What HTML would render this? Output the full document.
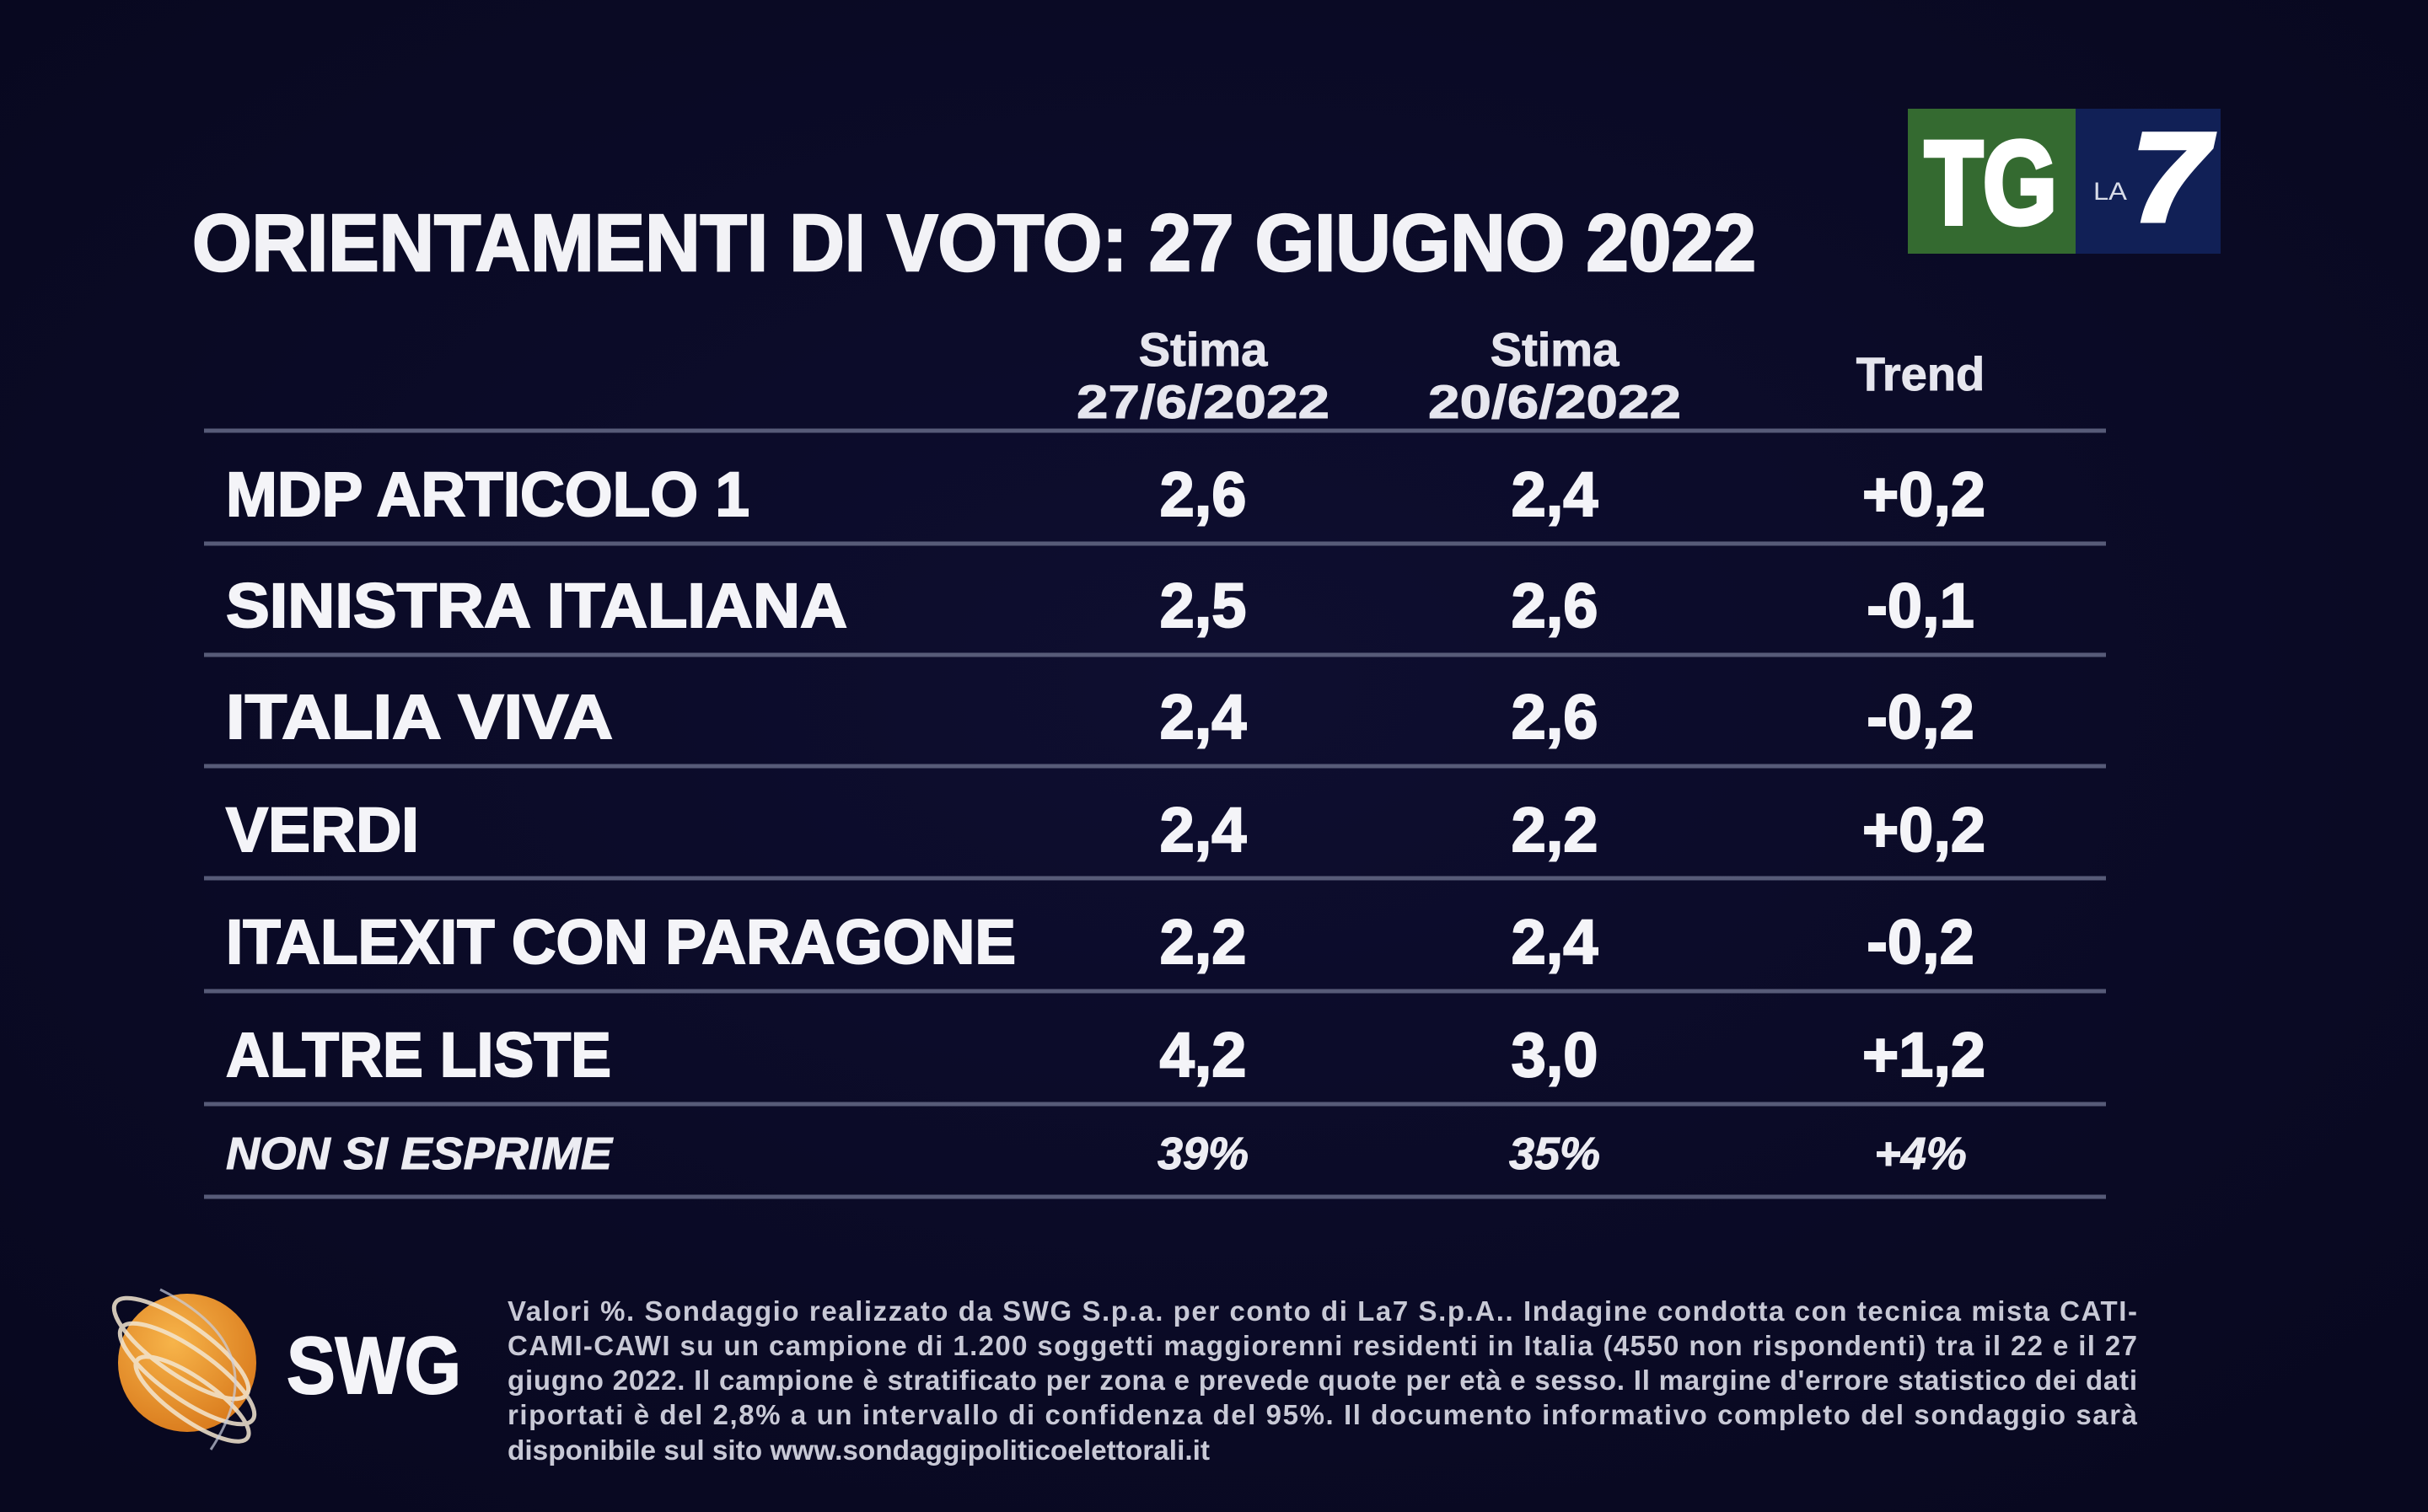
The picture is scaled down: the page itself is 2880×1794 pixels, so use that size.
<!DOCTYPE html>
<html><head><meta charset="utf-8"><style>
html,body{margin:0;padding:0;background:#0b0b28;}
svg{display:block}
</style></head><body>
<svg width="2880" height="1794" viewBox="0 0 2880 1794" xmlns="http://www.w3.org/2000/svg" font-family="Liberation Sans, DejaVu Sans, sans-serif">
<defs>
<radialGradient id="bg" cx="50%" cy="45%" r="70%">
<stop offset="0" stop-color="#0e0e30"/><stop offset="1" stop-color="#08081f"/>
</radialGradient>
<radialGradient id="orb" cx="40%" cy="35%" r="70%">
<stop offset="0" stop-color="#f7b44a"/><stop offset="1" stop-color="#d97a1c"/>
</radialGradient>
</defs>
<rect width="2880" height="1794" fill="url(#bg)"/>

<!-- TG LA7 logo -->
<rect x="2263" y="129" width="199" height="172" fill="#346a30"/>
<rect x="2462" y="129" width="172" height="172" fill="#112056"/>
<text x="2283" y="265" font-size="140" font-weight="bold" fill="#fff" stroke="#fff" stroke-width="6" textLength="157" lengthAdjust="spacingAndGlyphs">TG</text>
<text x="2483" y="237" font-size="30" fill="#d8dce8" textLength="40" lengthAdjust="spacingAndGlyphs">LA</text>
<text x="2528" y="262" font-size="150" font-weight="bold" font-style="italic" fill="#fff" stroke="#fff" stroke-width="5" textLength="92" lengthAdjust="spacingAndGlyphs">7</text>

<!-- Title -->
<text x="228" y="321" font-size="96" font-weight="bold" fill="#f2f2f6" stroke="#f2f2f6" stroke-width="2.5" textLength="1855" lengthAdjust="spacingAndGlyphs">ORIENTAMENTI DI VOTO: 27 GIUGNO 2022</text>

<!-- Headers -->
<g font-size="56" font-weight="bold" fill="#e6e6ee" text-anchor="middle" stroke="#e6e6ee" stroke-width="1">
<text x="1427" y="434">Stima</text>
<text x="1427" y="496" textLength="300" lengthAdjust="spacingAndGlyphs">27/6/2022</text>
<text x="1844" y="434">Stima</text>
<text x="1844" y="496" textLength="300" lengthAdjust="spacingAndGlyphs">20/6/2022</text>
<text x="2278" y="463">Trend</text>
</g>

<!-- Lines -->
<g stroke="#575b78" stroke-width="5">
<line x1="242" y1="511" x2="2498" y2="511"/>
<line x1="242" y1="645" x2="2498" y2="645"/>
<line x1="242" y1="777" x2="2498" y2="777"/>
<line x1="242" y1="909" x2="2498" y2="909"/>
<line x1="242" y1="1042" x2="2498" y2="1042"/>
<line x1="242" y1="1176" x2="2498" y2="1176"/>
<line x1="242" y1="1310" x2="2498" y2="1310"/>
<line x1="242" y1="1420" x2="2498" y2="1420"/>
</g>

<!-- Rows -->
<g font-size="74" font-weight="bold" fill="#f4f4f8" stroke="#f4f4f8" stroke-width="2">
<text x="268" y="612" textLength="621" lengthAdjust="spacingAndGlyphs">MDP ARTICOLO 1</text>
<text x="268" y="744" textLength="737" lengthAdjust="spacingAndGlyphs">SINISTRA ITALIANA</text>
<text x="268" y="876" textLength="459" lengthAdjust="spacingAndGlyphs">ITALIA VIVA</text>
<text x="268" y="1010" textLength="229" lengthAdjust="spacingAndGlyphs">VERDI</text>
<text x="268" y="1143" textLength="937" lengthAdjust="spacingAndGlyphs">ITALEXIT CON PARAGONE</text>
<text x="268" y="1277" textLength="457" lengthAdjust="spacingAndGlyphs">ALTRE LISTE</text>
</g>
<g font-size="74" font-weight="bold" fill="#f4f4f8" text-anchor="middle" stroke="#f4f4f8" stroke-width="2">
<text x="1427" y="612">2,6</text><text x="1844" y="612">2,4</text><text x="2282" y="612">+0,2</text>
<text x="1427" y="744">2,5</text><text x="1844" y="744">2,6</text><text x="2278" y="744">-0,1</text>
<text x="1427" y="876">2,4</text><text x="1844" y="876">2,6</text><text x="2278" y="876">-0,2</text>
<text x="1427" y="1010">2,4</text><text x="1844" y="1010">2,2</text><text x="2282" y="1010">+0,2</text>
<text x="1427" y="1143">2,2</text><text x="1844" y="1143">2,4</text><text x="2278" y="1143">-0,2</text>
<text x="1427" y="1277">4,2</text><text x="1844" y="1277">3,0</text><text x="2282" y="1277">+1,2</text>
</g>
<g font-size="54" font-weight="bold" font-style="italic" fill="#ececf2" stroke="#ececf2" stroke-width="1">
<text x="268" y="1387" textLength="458" lengthAdjust="spacingAndGlyphs">NON SI ESPRIME</text>
<text x="1427" y="1387" text-anchor="middle">39%</text>
<text x="1844" y="1387" text-anchor="middle">35%</text>
<text x="2278" y="1387" text-anchor="middle">+4%</text>
</g>

<!-- SWG logo -->
<circle cx="222" cy="1617" r="82" fill="url(#orb)"/>
<g fill="none" stroke="#f3e6d0" stroke-width="5" opacity="0.85">
<ellipse cx="215" cy="1600" rx="95" ry="30" transform="rotate(35 215 1600)"/>
<ellipse cx="222" cy="1630" rx="95" ry="30" transform="rotate(35 222 1630)"/>
<ellipse cx="228" cy="1660" rx="80" ry="25" transform="rotate(35 228 1660)"/>
</g>
<path d="M190 1530 Q330 1600 250 1720" fill="none" stroke="#c9cfe0" stroke-width="3" opacity="0.7"/>
<text x="340" y="1653" font-size="96" font-weight="bold" fill="#f4f4f8" stroke="#f4f4f8" stroke-width="2" textLength="207" lengthAdjust="spacingAndGlyphs">SWG</text>

<!-- Footnote -->
<g font-size="33" font-weight="bold" fill="#c8c9d6">
<text x="602" y="1567" textLength="1933" lengthAdjust="spacing">Valori %. Sondaggio realizzato da SWG S.p.a. per conto di La7 S.p.A.. Indagine condotta con tecnica mista CATI-</text>
<text x="602" y="1608" textLength="1933" lengthAdjust="spacing">CAMI-CAWI su un campione di 1.200 soggetti maggiorenni residenti in Italia (4550 non rispondenti) tra il 22 e il 27</text>
<text x="602" y="1649" textLength="1933" lengthAdjust="spacing">giugno 2022. Il campione è stratificato per zona e prevede quote per età e sesso. Il margine d'errore statistico dei dati</text>
<text x="602" y="1690" textLength="1933" lengthAdjust="spacing">riportati è del 2,8% a un intervallo di confidenza del 95%. Il documento informativo completo del sondaggio sarà</text>
<text x="602" y="1732" textLength="833" lengthAdjust="spacingAndGlyphs">disponibile sul sito www.sondaggipoliticoelettorali.it</text>
</g>
</svg>
</body></html>
